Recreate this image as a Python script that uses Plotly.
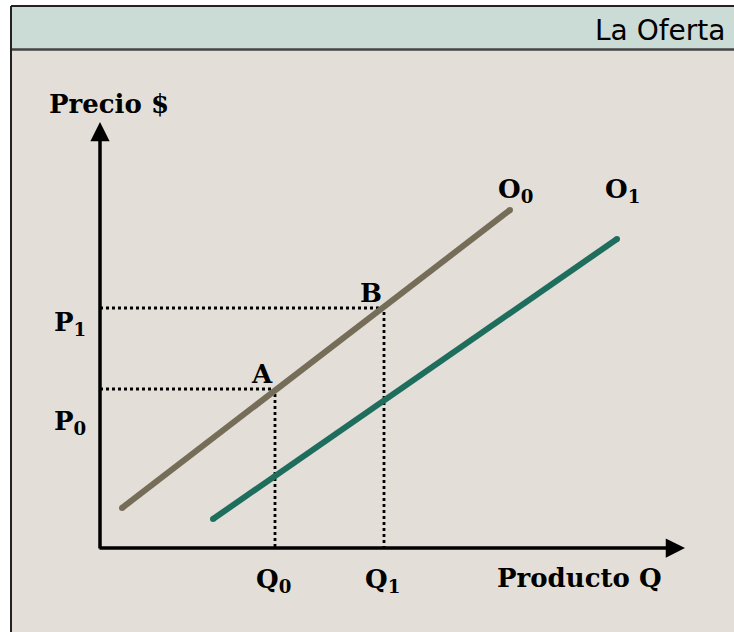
import plotly.graph_objects as go

# Data (economic units; origin at the axes corner)
o0_q = [0.44, 8.2]
o0_p = [0.8, 6.76]
o1_q = [2.26, 10.34]
o1_p = [0.58, 6.18]
point_names = ["A", "B"]
point_q = [3.5, 5.68]
point_p = [3.18, 4.8]
q_labels = ["Q<sub>0</sub>", "Q<sub>1</sub>"]
p_labels = ["P<sub>0</sub>", "P<sub>1</sub>"]
x_max = 11.7
y_max = 8.52

W, H = 734, 632
xr = [-2.0, 12.68]
yr = [-1.68, 10.96]

serif = "DejaVu Serif"
lab_font = dict(family=serif, size=26, color="black", weight="bold")
fig = go.Figure()

# Dotted guides
for q, p in zip(point_q, point_p):
    fig.add_trace(go.Scatter(x=[0, q, q], y=[p, p, 0], mode="lines",
                             line=dict(color="black", width=2.8, dash="dot"),
                             hoverinfo="skip", showlegend=False))

# Supply curves
for qs, ps, col in [(o0_q, o0_p, "#766d58"), (o1_q, o1_p, "#1f6e5d")]:
    fig.add_trace(go.Scatter(x=qs, y=ps, mode="lines+markers",
                             line=dict(color=col, width=6),
                             marker=dict(color=col, size=6),
                             hoverinfo="skip", showlegend=False))

def px(x):
    return x / W
def py(y):
    return 1 - y / H

shapes = [
    dict(type="rect", xref="paper", yref="paper", x0=px(11), x1=px(740), y0=py(640), y1=py(49),
         fillcolor="#e3dfd8", line=dict(width=0), layer="below"),
    dict(type="rect", xref="paper", yref="paper", x0=px(11), x1=px(740), y0=py(49), y1=py(6),
         fillcolor="#cbdbd5", line=dict(width=0), layer="below"),
    dict(type="line", xref="paper", yref="paper", x0=px(11), x1=px(740), y0=py(6), y1=py(6),
         line=dict(color="#222", width=2)),
    dict(type="line", xref="paper", yref="paper", x0=px(11), x1=px(740), y0=py(49.5), y1=py(49.5),
         line=dict(color="#444", width=2.5)),
    dict(type="line", xref="paper", yref="paper", x0=px(11), x1=px(11), y0=py(6), y1=py(640),
         line=dict(color="#222", width=2)),
]

annotations = [
    dict(xref="paper", yref="paper", x=px(727), y=py(30), text="La Oferta", showarrow=False,
         xanchor="right", yanchor="middle", font=dict(family="DejaVu Sans", size=28, color="black")),
    # axes arrows
    dict(x=x_max, y=0, ax=-0.04, ay=0, xref="x", yref="y", axref="x", ayref="y", text="",
         showarrow=True, arrowhead=2, arrowsize=1.1, arrowwidth=3.5, arrowcolor="black"),
    dict(x=0, y=y_max, ax=0, ay=-0.04, xref="x", yref="y", axref="x", ayref="y", text="",
         showarrow=True, arrowhead=2, arrowsize=1.1, arrowwidth=3.5, arrowcolor="black"),
    dict(x=0.18, y=8.88, text="Precio $", showarrow=False, font=lab_font),
    dict(x=9.58, y=-0.6, text="Producto Q", showarrow=False, font=lab_font),
    dict(x=8.3, y=7.16, text="O<sub>0</sub>", showarrow=False, font=lab_font),
    dict(x=10.44, y=7.16, text="O<sub>1</sub>", showarrow=False, font=lab_font),
]
for name, q, p in zip(point_names, point_q, point_p):
    annotations.append(dict(x=q - 0.26, y=p + 0.3, text=name, showarrow=False, font=lab_font))
for lab, q in zip(q_labels, point_q):
    annotations.append(dict(x=q - 0.04, y=-0.64, text=lab, showarrow=False, font=lab_font))
for lab, p in zip(p_labels, point_p):
    annotations.append(dict(x=-0.6, y=p - 0.66 if lab.endswith("0</sub>") else p - 0.3, text=lab,
                            showarrow=False, font=lab_font))

fig.update_layout(
    width=W, height=H, margin=dict(l=0, r=0, t=0, b=0),
    paper_bgcolor="white", plot_bgcolor="rgba(0,0,0,0)",
    xaxis=dict(range=xr, visible=False, fixedrange=True),
    yaxis=dict(range=yr, visible=False, fixedrange=True),
    shapes=shapes, annotations=annotations, showlegend=False,
)
fig.write_html("out.html", config={"displayModeBar": False, "staticPlot": True},
               post_script="document.body.style.margin='0';document.body.style.overflow='hidden';")
